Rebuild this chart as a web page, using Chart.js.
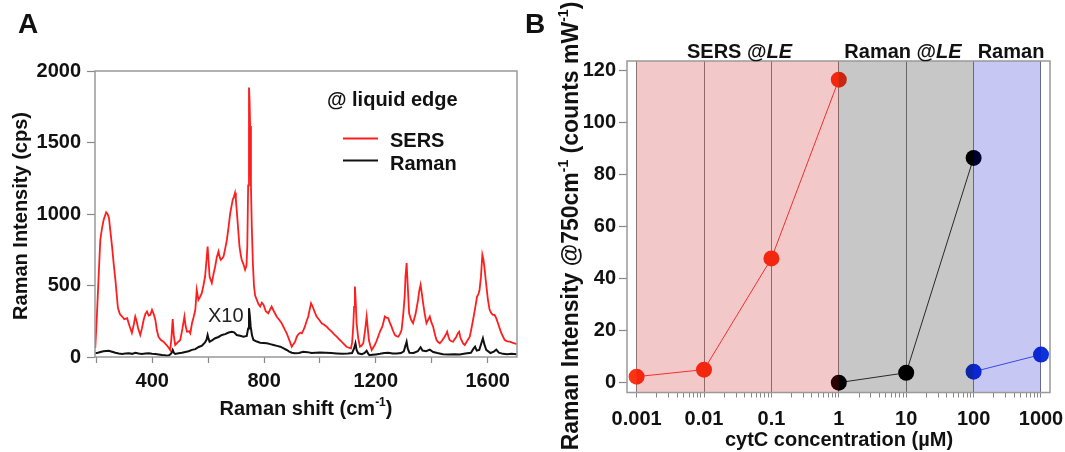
<!DOCTYPE html>
<html>
<head>
<meta charset="utf-8">
<script src="https://cdn.jsdelivr.net/npm/chart.js@4"></script>
<style>
  body { margin: 0; background: #fff; }
  #wrap { position: relative; width: 1065px; height: 452px; overflow: hidden; }
  canvas { position: absolute; top: 0; }
</style>
</head>
<body>
<div id="wrap">
  <canvas id="chartA" width="520" height="452" style="left:0"></canvas>
  <canvas id="chartB" width="560" height="452" style="left:520px"></canvas>
</div>
<script>
// ---- panel A: spectra at the liquid edge (Raman shift, cps) ----
const sersShift = [196,202,208,214,220,226,235,240,245,250,256,262,268,273,277,284,292,300,310,318,327,333,339,344,349,357,363,369,375,381,387,393,399,405,411,416,422,430,440,448,456,464,468,473,477,482,490,500,508,515,519,524,532,536,542,548,554,559,565,571,577,583,589,594,598,601,605,613,619,625,631,637,641,645,650,655,661,667,673,679,684,688,692,696,699,702,707,712,716,720,726,732,737,740,743,746,748,750,753,756,760,764,768,774,780,786,792,798,806,815,821,827,835,845,854,863,872,881,890,899,905,911,917,923,930,935,941,946,952,958,964,968,972,976,982,988,997,1006,1015,1024,1032,1042,1050,1060,1068,1077,1086,1095,1103,1111,1115,1119,1122,1125,1128,1131,1137,1143,1149,1155,1161,1167,1171,1175,1180,1185,1190,1196,1202,1208,1215,1223,1228,1232,1238,1244,1250,1256,1262,1268,1274,1280,1286,1292,1298,1303,1306,1310,1314,1319,1326,1333,1342,1351,1355,1360,1364,1369,1375,1381,1387,1393,1399,1405,1411,1417,1423,1429,1437,1446,1451,1455,1460,1464,1470,1476,1482,1488,1493,1498,1502,1506,1512,1518,1526,1536,1543,1550,1556,1562,1567,1571,1576,1581,1585,1590,1593,1597,1601,1607,1613,1619,1625,1631,1637,1643,1649,1655,1661,1670,1679,1688,1696,1704];
const sersCounts = [63,300,563,820,900,960,1012,1000,972,880,773,650,540,430,344,300,283,265,271,220,168,220,283,250,203,154,200,259,300,318,290,295,330,300,259,190,142,120,107,90,72,49,120,265,150,84,100,119,200,283,220,177,180,166,236,280,330,470,400,420,446,500,563,680,773,680,563,517,580,633,700,738,700,680,690,703,760,820,910,1007,1060,1101,1120,1148,1100,1031,900,773,720,680,650,610,640,773,1200,1884,1800,1615,1200,914,650,493,430,400,370,353,380,365,320,306,330,353,320,283,260,236,200,166,120,72,90,107,142,160,170,166,190,212,250,283,340,376,360,341,310,283,260,236,225,212,195,177,160,142,125,107,90,72,65,61,100,212,350,493,380,236,130,72,80,96,180,283,200,119,80,49,65,84,110,142,180,212,250,283,275,271,240,212,180,154,145,142,160,189,300,420,560,657,500,306,260,236,300,400,460,505,450,376,300,236,260,283,240,212,160,119,105,96,115,142,160,177,140,119,110,107,125,142,165,177,140,119,95,84,110,142,210,283,350,423,440,470,560,715,680,600,540,470,400,330,306,295,295,270,236,200,166,142,119,110,107,100,96,90];

const ramanShift = [196,205,215,225,235,244,256,268,280,292,304,316,328,339,351,363,375,387,399,411,423,435,445,452,460,468,473,477,482,494,506,518,530,542,554,566,578,588,594,598,601,605,615,625,637,649,661,673,685,693,702,714,726,738,743,746,749,752,757,762,774,786,798,810,822,834,846,858,870,881,890,899,910,925,940,955,970,985,1000,1020,1040,1060,1080,1100,1115,1122,1127,1131,1137,1150,1160,1167,1172,1177,1188,1200,1215,1230,1245,1260,1275,1290,1300,1306,1310,1314,1320,1335,1350,1360,1367,1380,1393,1405,1420,1440,1460,1480,1500,1520,1540,1550,1555,1561,1570,1578,1583,1588,1595,1610,1622,1631,1640,1655,1670,1685,1704];
const ramanCounts = [26,30,35,40,42,44,37,30,25,21,24,26,22,30,24,21,25,26,22,21,18,14,12,9,12,25,49,30,21,26,30,35,40,50,55,70,80,100,120,154,130,107,118,131,140,154,160,171,177,172,154,148,142,147,200,341,290,212,150,119,108,100,98,96,90,84,78,72,60,49,38,30,26,28,36,34,28,30,32,30,28,25,22,24,28,60,96,50,26,20,28,44,25,12,15,18,22,28,30,25,24,28,40,80,107,60,30,28,40,68,45,40,51,35,28,20,18,20,18,24,30,60,72,45,50,100,131,90,50,28,38,51,30,22,20,22,20];

const shiftTicks = [200,400,600,800,1000,1200,1400,1600];
const shiftLabelled = [400,800,1200,1600];
const countTicks = [0,500,1000,1500,2000];

// ---- panel B: intensity at 750 cm-1 vs cytC concentration ----
const sersConc = [0.001, 0.01, 0.1, 1];
const sersInt = [2.3, 5.0, 47.8, 116.6];
const ramanLEConc = [1, 10, 100];
const ramanLEInt = [0, 3.8, 86.5];
const ramanConc = [100, 1000];
const ramanInt = [4.2, 10.8];

const concDecades = [0.001, 0.01, 0.1, 1, 10, 100, 1000];
const concLabels = ['0.001', '0.01', '0.1', '1', '10', '100', '1000'];
const intTicks = [0, 20, 40, 60, 80, 100, 120];
const regionBounds = [0.001, 1, 100, 1000];   // SERS @LE | Raman @LE | Raman
const regionNames = ['SERS @', 'Raman @', 'Raman'];

const FAM = '"Liberation Sans", Arial, Helvetica, sans-serif';
const TXT = '#111';
const tickFont = { family: FAM, size: 20, weight: 'bold' };

function fontFor(kind, size) {
  if (kind === 's') return 'bold ' + Math.round(size * 0.6) + 'px ' + FAM;
  if (kind === 'i') return 'italic bold ' + size + 'px ' + FAM;
  if (kind === 'r') return size + 'px ' + FAM;
  return 'bold ' + size + 'px ' + FAM;
}

// draws text runs (normal / italic / superscript) centred on x, baseline at y
function richText(ctx, parts, x, y, size, rotate) {
  ctx.save();
  ctx.translate(x, y);
  if (rotate) ctx.rotate(-Math.PI / 2);
  ctx.textAlign = 'left';
  ctx.textBaseline = 'alphabetic';
  ctx.fillStyle = TXT;
  const widths = parts.map(p => { ctx.font = fontFor(p[1], size); return ctx.measureText(p[0]).width; });
  let cx = -widths.reduce((a, b) => a + b, 0) / 2;
  parts.forEach((p, i) => {
    ctx.font = fontFor(p[1], size);
    ctx.fillText(p[0], cx, p[1] === 's' ? -size * 0.45 : 0);
    cx += widths[i];
  });
  ctx.restore();
}

function leftText(ctx, str, x, y, font, color) {
  ctx.save();
  ctx.font = font;
  ctx.fillStyle = color || TXT;
  ctx.textAlign = 'left';
  ctx.textBaseline = 'alphabetic';
  ctx.fillText(str, x, y);
  ctx.restore();
}

function frame(chart) {
  const a = chart.chartArea, ctx = chart.ctx;
  ctx.save();
  ctx.strokeStyle = '#999';
  ctx.lineWidth = 1.5;
  ctx.strokeRect(a.left, a.top, a.right - a.left, a.bottom - a.top);
  ctx.restore();
}

function isDecade(v) {
  const l = Math.log10(v);
  return Math.abs(l - Math.round(l)) < 1e-6;
}

// ----- chart A -----
const annotA = {
  id: 'annotA',
  afterDraw(chart) {
    const ctx = chart.ctx;
    frame(chart);
    leftText(ctx, 'A', 18, 33, 'bold 28px ' + FAM);
    richText(ctx, [['Raman Intensity (cps)', 'n']], 27, 216, 20, true);
    richText(ctx, [['Raman shift (cm', 'n'], ['-1', 's'], [')', 'n']], 306, 415, 20, false);
    // legend
    leftText(ctx, '@ liquid edge', 327, 106, 'bold 20px ' + FAM);
    const ds = chart.data.datasets;
    [[ds[0], 138.5, 146.5], [ds[1], 160.5, 169.5]].forEach(function (row) {
      ctx.save();
      ctx.strokeStyle = row[0].borderColor;
      ctx.lineWidth = 1.8;
      ctx.beginPath();
      ctx.moveTo(343, row[1]);
      ctx.lineTo(378, row[1]);
      ctx.stroke();
      ctx.restore();
      leftText(ctx, row[0].label, 390, row[2], 'bold 20px ' + FAM);
    });
    leftText(ctx, 'X10', 208, 321.5, '20px ' + FAM, '#222');
  }
};

new Chart(document.getElementById('chartA'), {
  type: 'line',
  data: {
    datasets: [
      { label: 'SERS', data: sersShift.map((x, i) => ({ x: x, y: sersCounts[i] })), borderColor: '#ff1e1e', borderWidth: 1.8, pointRadius: 0, tension: 0 },
      { label: 'Raman', data: ramanShift.map((x, i) => ({ x: x, y: ramanCounts[i] })), borderColor: '#111111', borderWidth: 2, pointRadius: 0, tension: 0 }
    ]
  },
  options: {
    responsive: false,
    animation: false,
    layout: { padding: { left: 0, top: 71, right: 3, bottom: 0 } },
    plugins: { legend: { display: false }, tooltip: { enabled: false } },
    scales: {
      x: {
        type: 'linear', min: 195, max: 1705,
        afterBuildTicks: s => { s.ticks = shiftTicks.map(v => ({ value: v })); },
        afterFit: s => { s.height = 95; },
        ticks: { callback: v => shiftLabelled.includes(v) ? String(v) : '', font: tickFont, color: TXT, padding: 6, maxRotation: 0, autoSkip: false },
        grid: { drawOnChartArea: false, tickLength: 6, tickColor: '#888', tickWidth: 1.2 },
        border: { display: false }
      },
      y: {
        min: 0, max: 2000,
        afterBuildTicks: s => { s.ticks = countTicks.map(v => ({ value: v })); },
        afterFit: s => { s.width = 95; },
        ticks: { callback: v => String(v), font: tickFont, color: TXT, padding: 6 },
        grid: { drawOnChartArea: false, tickLength: 8, tickColor: '#888', tickWidth: 1.2 },
        border: { display: false }
      }
    }
  },
  plugins: [annotA]
});

// ----- chart B -----
const annotB = {
  id: 'annotB',
  afterDatasetsDraw(chart) {
    // translucent bands sit over the points, as in the figure
    const ctx = chart.ctx, a = chart.chartArea, xs = chart.scales.x;
    const fills = ['rgba(200,0,0,0.216)', 'rgba(0,0,0,0.22)', 'rgba(0,0,200,0.22)'];
    ctx.save();
    for (let i = 0; i < regionBounds.length - 1; i++) {
      const x0 = xs.getPixelForValue(regionBounds[i]);
      const x1 = xs.getPixelForValue(regionBounds[i + 1]);
      ctx.fillStyle = fills[i];
      ctx.fillRect(x0, a.top, x1 - x0, a.bottom - a.top);
    }
    ctx.restore();
  },
  afterDraw(chart) {
    const ctx = chart.ctx;
    frame(chart);
    leftText(ctx, 'B', 5, 33, 'bold 28px ' + FAM);
    // band headings
    richText(ctx, [[regionNames[0], 'n'], ['LE', 'i']], 219.5, 58, 20, false);
    richText(ctx, [[regionNames[1], 'n'], ['LE', 'i']], 383, 58, 20, false);
    richText(ctx, [[regionNames[2], 'n']], 491, 58, 20, false);
    richText(ctx, [['Raman Intensity @750cm', 'n'], ['-1', 's'], [' (counts mW', 'n'], ['-1', 's'], [')', 'n']], 58, 226, 23, true);
    richText(ctx, [['cytC concentration (\u00b5M)', 'n']], 319, 446, 20, false);
  }
};

function minorLogTicks() {
  const out = [];
  for (let e = -3; e < 3; e++) {
    for (let m = 1; m < 10; m++) out.push(Number((m * Math.pow(10, e)).toPrecision(3)));
  }
  out.push(1000);
  return out;
}

new Chart(document.getElementById('chartB'), {
  type: 'line',
  data: {
    datasets: [
      { label: 'SERS @LE', data: sersConc.map((x, i) => ({ x: x, y: sersInt[i] })), borderColor: '#ff3c3c', borderWidth: 1, pointRadius: 8, pointBackgroundColor: '#ff3214', pointBorderWidth: 0 },
      { label: 'Raman @LE', data: ramanLEConc.map((x, i) => ({ x: x, y: ramanLEInt[i] })), borderColor: '#333333', borderWidth: 1, pointRadius: 8, pointBackgroundColor: '#000000', pointBorderWidth: 0 },
      { label: 'Raman', data: ramanConc.map((x, i) => ({ x: x, y: ramanInt[i] })), borderColor: '#4a5ce8', borderWidth: 1, pointRadius: 8, pointBackgroundColor: '#0f32d8', pointBorderWidth: 0 }
    ]
  },
  options: {
    responsive: false,
    animation: false,
    layout: { padding: { left: 0, top: 61, right: 30, bottom: 0 } },
    plugins: { legend: { display: false }, tooltip: { enabled: false } },
    scales: {
      x: {
        type: 'logarithmic', min: 0.00072, max: 1360,
        afterBuildTicks: s => { s.ticks = minorLogTicks().map(v => ({ value: v })); },
        afterFit: s => { s.height = 59.5; },
        ticks: {
          callback: v => { const k = concDecades.findIndex(d => Math.abs(d - v) < d * 1e-6); return k >= 0 ? concLabels[k] : ''; },
          font: tickFont, color: TXT, padding: 10, maxRotation: 0, autoSkip: false
        },
        grid: {
          drawOnChartArea: true,
          color: c => (c.tick && isDecade(c.tick.value)) ? 'rgba(90,90,90,0.75)' : 'rgba(0,0,0,0)',
          tickColor: '#888', tickLength: 5, lineWidth: 1
        },
        border: { display: false }
      },
      y: {
        min: -3.8, max: 123.8,
        afterBuildTicks: s => { s.ticks = intTicks.map(v => ({ value: v })); },
        afterFit: s => { s.width = 107; },
        ticks: { font: tickFont, color: TXT, padding: 3 },
        grid: { drawOnChartArea: false, tickLength: 8, tickColor: '#888', tickWidth: 1.2 },
        border: { display: false }
      }
    }
  },
  plugins: [annotB]
});
</script>
</body>
</html>
